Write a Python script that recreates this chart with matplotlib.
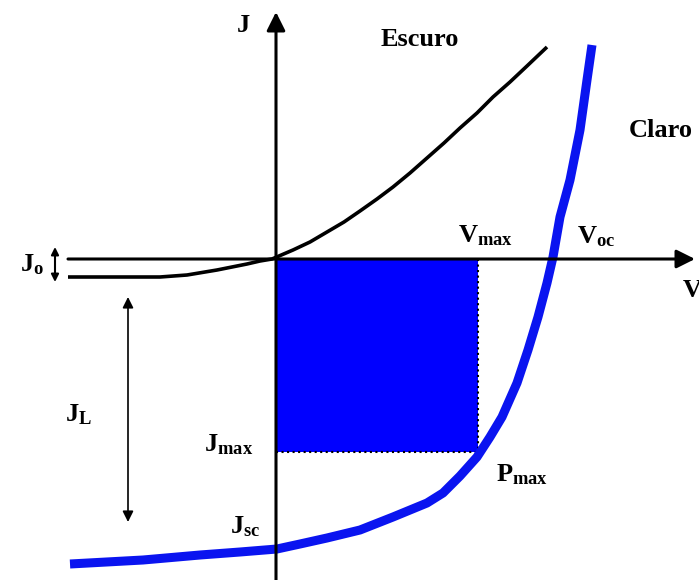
import matplotlib
matplotlib.use('Agg')
import matplotlib.pyplot as plt
from matplotlib.patches import Rectangle

plt.rcParams['font.family'] = 'Liberation Serif'
plt.rcParams['font.weight'] = 'bold'
plt.rcParams['mathtext.fontset'] = 'custom'
plt.rcParams['mathtext.rm'] = 'Liberation Serif:bold'
plt.rcParams['mathtext.it'] = 'Liberation Serif:bold'
plt.rcParams['mathtext.bf'] = 'Liberation Serif:bold'

# dark curve (V, J), arbitrary units
dark_v = [-208, -116, -89, -59, -44, -29, -16, -4, 17, 34, 51, 68, 84, 101,
          117, 134, 151, 168, 184, 201, 217, 234, 251, 271]
dark_j = [-18, -18, -16, -11, -8, -5, -2, 0, 9, 17, 27, 37, 48, 60,
          72, 86, 101, 116, 131, 146, 162, 177, 193, 212]

# illuminated curve
light_v = [-206, -133, -76, -36, 1, 24, 51, 84, 117, 151, 167, 184, 201, 214,
           226, 241, 252, 262, 271, 277, 284, 294, 304, 311, 316]
light_j = [-305, -301, -296, -293, -290, -285, -279, -271, -258, -244, -234,
           -217, -198, -178, -158, -124, -91, -58, -24, 2, 42, 79, 129, 179, 214]

v_max = 202
j_max = -193
j_o = -18

fig = plt.figure(figsize=(6.99, 5.80), dpi=100)
ax = fig.add_axes([0, 0, 1, 1])
ax.set_xlim(-276, 423)
ax.set_ylim(-321, 259)
ax.axis('off')

# maximum power rectangle
ax.add_patch(Rectangle((0, j_max), v_max, -j_max, facecolor='#0000ff',
                       edgecolor='none', zorder=1))
ax.plot([v_max, v_max], [0, j_max], color='black', lw=1.5, ls=':', zorder=2)
ax.plot([0, v_max], [j_max, j_max], color='black', lw=1.5, ls=':', zorder=2)

# axes with arrowheads
arrow = dict(arrowstyle='-|>', color='black', lw=2.2, mutation_scale=28,
             shrinkA=0, shrinkB=0)
ax.annotate('', xy=(419, 0), xytext=(-208, 0), arrowprops=arrow, zorder=4)
ax.annotate('', xy=(0, 247), xytext=(0, -321), arrowprops=arrow, zorder=4)

ax.plot(dark_v, dark_j, color='black', lw=2.6, zorder=3,
        solid_capstyle='butt', solid_joinstyle='round')
ax.plot(light_v, light_j, color='#0a14f0', lw=6.5, zorder=3,
        solid_capstyle='butt', solid_joinstyle='round')

# J_L and J_o markers
darrow = dict(arrowstyle='<|-|>', color='black', lw=1.2, mutation_scale=16,
              shrinkA=0, shrinkB=0)
ax.annotate('', xy=(-148, -38), xytext=(-148, -263), arrowprops=darrow)
ax.annotate('', xy=(-221, 12), xytext=(-221, j_o - 5),
            arrowprops=dict(arrowstyle='<|-|>', color='black', lw=1.5,
                            mutation_scale=11, shrinkA=0, shrinkB=0))

fs = 19
ax.text(-33, 234, 'J', fontsize=fs, ha='center', va='center')
ax.text(144, 219, 'Escuro', fontsize=fs, ha='center', va='center')
ax.text(385, 129, 'Claro', fontsize=fs, ha='center', va='center')
ax.text(407, -31, 'V', fontsize=fs, ha='left', va='center')
ax.text(210, 23, r'$\mathrm{V}_{\mathrm{max}}$', fontsize=fs, ha='center', va='center')
ax.text(320, 22, r'$\mathrm{V}_{\mathrm{oc}}$', fontsize=fs, ha='center', va='center')
ax.text(-244, -6, r'$\mathrm{J}_{\mathrm{o}}$', fontsize=fs, ha='center', va='center')
ax.text(-198, -156, r'$\mathrm{J}_{\mathrm{L}}$', fontsize=fs, ha='center', va='center')
ax.text(-47, -186, r'$\mathrm{J}_{\mathrm{max}}$', fontsize=fs, ha='center', va='center')
ax.text(-31, -268, r'$\mathrm{J}_{\mathrm{sc}}$', fontsize=fs, ha='center', va='center')
ax.text(246, -216, r'$\mathrm{P}_{\mathrm{max}}$', fontsize=fs, ha='center', va='center')

fig.savefig('out.png', dpi=100)
